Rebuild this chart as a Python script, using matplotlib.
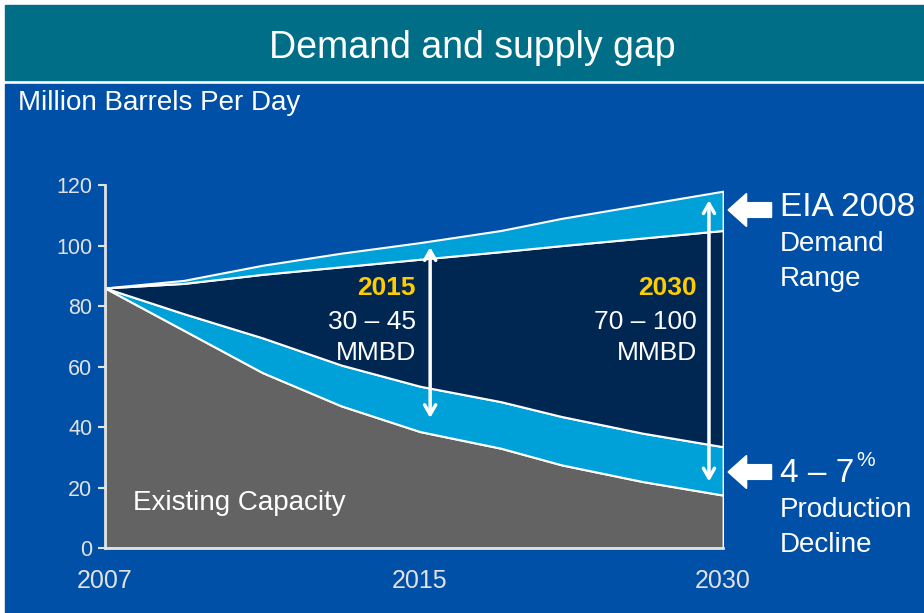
import numpy as np
import matplotlib.pyplot as plt
from matplotlib.patches import Rectangle, FancyArrow

plt.rcParams['font.family'] = ['Liberation Sans', 'DejaVu Sans']

# Dados (milhões de barris por dia)
years = [2007, 2009, 2011, 2013, 2015, 2019, 2022, 2026, 2030]
demand_high = [86, 88.5, 93.5, 97.5, 101, 105, 109, 113.5, 118]
demand_low = [86, 87.5, 90.5, 93, 95.5, 98, 100, 102.5, 105]
decline_4 = [86, 77.5, 69.5, 60.5, 53.5, 48.4, 43.5, 38, 33.5]
decline_7 = [86, 72, 58, 47, 38.5, 33, 27.5, 22, 17.5]
tick_years = [2007, 2015, 2030]
yticks = [0, 20, 40, 60, 80, 100, 120]

# Cores
bg_blue = '#0050A8'
teal = '#006E87'
light_blue = '#00A0D8'
navy = '#002752'
gray = '#636363'
yellow = '#FFCC00'
light = '#E2E2E2'

fig = plt.figure(figsize=(9.24, 6.13), dpi=100, facecolor='white')

# fundo azul + faixa do título
fig.patches.append(Rectangle((0.0054, 0), 1, 0.863, transform=fig.transFigure,
                             color=bg_blue, zorder=-2))
fig.patches.append(Rectangle((0.0054, 0.8695), 1, 0.1225, transform=fig.transFigure,
                             color=teal, zorder=-2))
fig.text(0.511, 0.922, 'Demand and supply gap', color='white', fontsize=27,
         ha='center', va='center')
fig.text(0.019, 0.832, 'Million Barrels Per Day', color='white', fontsize=20,
         ha='left', va='center')

ax = fig.add_axes([0.1136, 0.106, 0.669, 0.592])
ax.set_facecolor('none')


# eixo x não linear (2007-2015 ocupa mais espaço que 2015-2030)
def fwd(x):
    return np.interp(x, [2007, 2015, 2030], [0.0, 315.0, 618.0])


def inv(p):
    return np.interp(p, [0.0, 315.0, 618.0], [2007, 2015, 2030])


ax.set_xscale('function', functions=(fwd, inv))

edge = dict(edgecolor='white', linewidth=1.5)
ax.fill_between(years, 0, decline_7, facecolor=gray, **edge)
ax.fill_between(years, decline_7, decline_4, facecolor=light_blue, **edge)
ax.fill_between(years, decline_4, demand_low, facecolor=navy, **edge)
ax.fill_between(years, demand_low, demand_high, facecolor=light_blue, **edge)

ax.set_xlim(2007, 2030)
ax.set_ylim(0, 120)
ax.set_xticks(tick_years)
ax.set_xticklabels([str(y) for y in tick_years])
ax.set_yticks(yticks)
ax.tick_params(axis='x', length=0, pad=15, labelsize=18, labelcolor=light)
ax.tick_params(axis='y', length=5, width=1.5, color=light, pad=4,
               labelsize=15.5, labelcolor=light)
for s in ['top', 'right']:
    ax.spines[s].set_visible(False)
for s in ['left', 'bottom']:
    ax.spines[s].set_color(light)
    ax.spines[s].set_linewidth(2)

# setas de intervalo
arrow = dict(arrowstyle='<->,head_length=0.7,head_width=0.4', color='white',
             lw=2.5, shrinkA=0, shrinkB=0)
ax.annotate('', xy=(2015.5, 99.5), xytext=(2015.5, 43), arrowprops=arrow)
ax.annotate('', xy=(2029.3, 115), xytext=(2029.3, 22), arrowprops=arrow)

# textos dentro do gráfico
for x, yr, rng in [(2014.9, '2015', '30 – 45'), (2028.7, '2030', '70 – 100')]:
    ax.text(x, 86, yr, color=yellow, fontsize=19, fontweight='bold',
            ha='right', va='center')
    ax.text(x, 74.7, rng, color='white', fontsize=19, ha='right', va='center')
    ax.text(x, 64.5, 'MMBD', color='white', fontsize=19, ha='right', va='center')

ax.text(2007.7, 14.9, 'Existing Capacity', color='white', fontsize=20,
        ha='left', va='center')

# setas brancas à direita
for yc in [1 - 210 / 613, 1 - 472 / 613]:
    fig.patches.append(FancyArrow(0.835, yc, -0.047, 0, width=0.024,
                                  head_width=0.054, head_length=0.02,
                                  length_includes_head=True,
                                  transform=fig.transFigure, color='white'))

fig.text(0.844, 1 - 208 / 613, 'EIA 2008', color='white', fontsize=24,
         ha='left', va='center')
fig.text(0.844, 1 - 244 / 613, 'Demand', color='white', fontsize=20,
         ha='left', va='center')
fig.text(0.844, 1 - 279 / 613, 'Range', color='white', fontsize=20,
         ha='left', va='center')
fig.text(0.844, 1 - 474 / 613, '4 – 7', color='white', fontsize=24,
         ha='left', va='center')
fig.text(0.927, 1 - 470 / 613, '%', color='white', fontsize=15,
         ha='left', va='bottom')
fig.text(0.844, 1 - 510 / 613, 'Production', color='white', fontsize=20,
         ha='left', va='center')
fig.text(0.844, 1 - 545 / 613, 'Decline', color='white', fontsize=20,
         ha='left', va='center')

fig.savefig('out.png', dpi=100, facecolor=fig.get_facecolor())
